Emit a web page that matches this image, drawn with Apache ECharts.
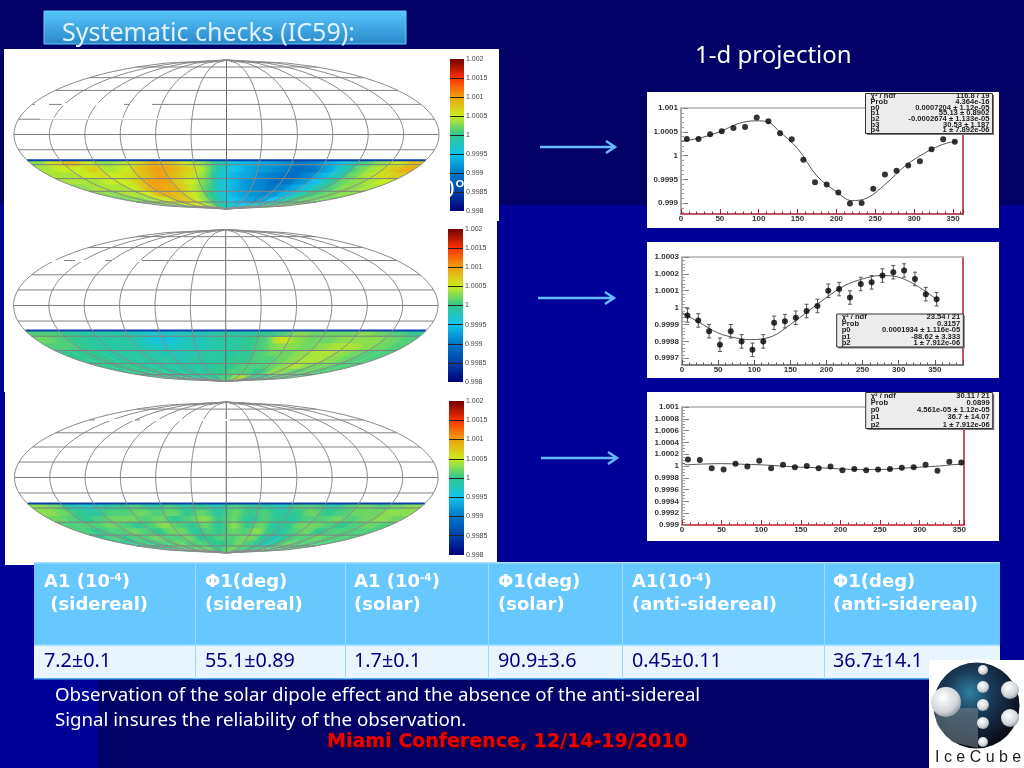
<!DOCTYPE html>
<html><head><meta charset="utf-8">
<style>html,body{margin:0;padding:0;background:#000066}#c{width:1024px;height:768px}</style>
<script src="https://cdn.jsdelivr.net/npm/echarts@6/dist/echarts.min.js"></script>
</head><body><div id="c"></div>
<script>
// ---------- data ----------
const binCentres = [7.5,22.5,37.5,52.5,67.5,82.5,97.5,112.5,127.5,142.5,157.5,172.5,187.5,202.5,217.5,232.5,247.5,262.5,277.5,292.5,307.5,322.5,337.5,352.5];
const siderealY = [1.00035,1.00035,1.00045,1.00051,1.00058,1.0006,1.0008,1.00072,1.00047,1.00034,0.99991,0.99944,0.99939,0.99922,0.99899,0.999,0.9993,0.9996,0.99968,0.99979,0.99988,1.00013,1.00034,1.00029];
const siderealFit = [[0,1.0003],[25,1.00037],[50,1.0005],[75,1.00068],[97,1.00073],[112,1.00071],[125,1.00053],[150,1.00015],[175,0.99957],[200,0.99924],[220,0.99905],[240,0.99911],[262,0.99938],[290,0.9998],[320,1.00011],[340,1.00025],[355,1.0003]];
const solarY = [0.999954,0.999924,0.99986,0.99978,0.99986,0.9998,0.99975,0.9998,0.99991,0.99992,0.99994,0.99998,1.00001,1.0001,1.00011,1.00006,1.00014,1.00015,1.00019,1.00021,1.00022,1.00017,1.00008,1.00005];
const solarErr = [0.00004,0.00004,0.00004,0.00004,0.00004,0.00004,0.00004,0.00004,0.00004,0.00004,0.00004,0.00004,0.00004,0.00004,0.00004,0.00004,0.00004,0.00004,0.00004,0.00004,0.00004,0.00004,0.00004,0.00004];
const solarFit = [[0,0.99997],[25,0.99991],[50,0.99985],[75,0.99982],[95,0.99981],[125,0.99983],[150,0.9999],[175,0.99998],[200,1.00006],[225,1.00013],[250,1.00017],[275,1.00019],[300,1.00018],[325,1.00013],[352,1.00005]];
const antiY = [1.00011,1.0001,0.99996,0.99994,1.00004,0.99999,1.00009,0.99996,1.00002,0.99998,1.0,0.99996,0.99999,0.99993,0.99995,0.99993,0.99994,0.99995,0.99997,0.99998,1.00002,0.99992,1.00007,1.00006];
const antiFit = [[0,1.00005],[7,1.00002],[20,1.00003],[50,1.00004],[75,1.00003],[100,1.00002],[125,1.0],[150,0.99998],[175,0.99997],[200,0.99995],[225,0.99994],[250,0.99994],[275,0.99996],[300,0.99998],[325,1.0],[340,1.00002],[355,1.00003]];
const statsSidereal = [['χ² / ndf','116.8 / 19'],['Prob','4.364e-16'],['p0','0.0007204 ± 1.12e-05'],['p1','55.13 ± 0.8902'],['p2','-0.0002674 ± 1.133e-05'],['p3','30.53 ± 1.187'],['p4','1 ± 7.892e-06']];
const statsSolar = [['χ² / ndf','23.54 / 21'],['Prob','0.3157'],['p0','0.0001934 ± 1.116e-05'],['p1','-88.62 ± 3.333'],['p2','1 ± 7.912e-06']];
const statsAnti = [['χ² / ndf','30.11 / 21'],['Prob','0.0899'],['p0','4.561e-05 ± 1.12e-05'],['p1','36.7 ± 14.07'],['p2','1 ± 7.912e-06']];
const siderealTicks = [0.999,0.9995,1,1.0005,1.001];
const solarTicks = [0.9997,0.9998,0.9999,1,1.0001,1.0002,1.0003];
const antiTicks = [0.999,0.9992,0.9994,0.9996,0.9998,1,1.0002,1.0004,1.0006,1.0008,1.001];

// sky maps: rows run from the northern edge of the band to the pole, 24 columns in RA, in units of 1e-4 around 1
const mapSidereal = [
[3,6,8,5,3,4,6,9,8,5,3,-1,-5,-6,-7,-8,-10,-9,-6,-3,1,3,5,8],
[4,5,5,7,4,5,8,10,9,7,4,-2,-5,-7,-8,-9,-11,-10,-7,-2,2,4,7,9],
[4,4,5,6,5,6,8,10,8,6,3,-3,-6,-7,-9,-10,-11,-9,-6,-2,2,4,6,7],
[4,4,4,5,5,7,10,10,7,5,2,-3,-6,-8,-9,-11,-10,-8,-5,-1,2,3,4,5],
[3,4,4,4,5,8,10,9,7,4,1,-3,-6,-8,-9,-10,-9,-7,-4,-1,1,3,3,4],
[3,3,4,4,5,8,9,8,6,4,0,-3,-6,-7,-8,-9,-8,-6,-3,0,1,2,3,3],
[2,3,3,4,5,6,8,7,5,3,0,-3,-5,-6,-7,-8,-7,-5,-3,0,1,2,2,2],
[2,2,3,3,4,5,6,5,4,2,0,-2,-3,-4,-5,-5,-4,-3,-2,0,1,1,2,2]];
const mapSolar = [
[1,1,0,-1,-1,-1,-2,-3,-3,-2,-2,-1,-1,-1,0,1,3,2,2,2,3,2,1,0],
[2,1,0,-1,-1,-1,-2,-4,-4,-2,-2,-1,-1,0,1,6,3,2,2,3,3,3,2,1],
[1,1,0,-1,-1,-1,-2,-3,-3,-2,-2,-1,-1,0,1,3,3,2,3,4,4,3,2,1],
[0,0,0,-1,-1,-1,-1,-2,-2,-2,-1,-1,-1,0,1,2,2,3,4,4,3,2,1,1],
[0,0,0,-1,-1,-1,-1,-1,-2,-1,-1,-1,0,0,1,1,2,3,4,4,3,2,1,1],
[0,0,0,0,-1,-1,-1,-1,-1,-1,-1,0,0,1,1,1,2,3,4,3,2,2,1,1],
[0,0,0,0,0,-1,-1,-1,-1,-1,0,0,1,1,1,0,1,3,3,2,1,2,1,1],
[0,0,0,0,0,0,-1,-1,0,0,0,1,1,3,4,3,1,-1,0,1,1,1,1,1]];
const mapAnti = [
[3,2,-2,-3,-1,0,1,-1,1,-1,0,-2,1,0,-1,-2,1,1,-1,1,2,1,2,3],
[3,2,0,-1,1,1,2,1,2,0,2,-1,2,0,1,-1,0,2,0,1,2,2,3,3],
[2,1,0,1,2,2,1,2,0,1,3,0,2,-1,1,0,-1,1,1,2,1,2,3,2],
[1,1,1,2,1,0,1,3,1,0,2,-1,3,0,2,-1,0,2,2,1,0,1,2,1],
[1,0,1,1,2,1,0,2,2,-1,1,0,2,1,3,0,-1,1,2,0,1,1,1,1],
[0,1,0,1,1,2,1,1,2,0,0,1,1,2,2,-1,-2,0,1,1,2,1,1,1],
[0,0,1,0,1,1,2,1,1,1,0,0,1,2,1,0,-2,-1,1,2,1,1,1,1],
[0,0,0,1,1,1,1,2,2,1,0,1,2,2,1,1,0,1,1,1,1,1,1,1]];
const colorTicks = [0.998,0.9985,0.999,0.9995,1,1.0005,1.001,1.0015,1.002];
const colorStops = ['#00007a','#0040a8','#0078c8','#10c4ee','#30c890','#c8ec20','#f0a010','#ff3000','#700000'];

// table
const tableHead = [['A1 (10','-4',')',' (sidereal)'],['Φ1(deg)','','','(sidereal)'],['A1 (10','-4',')','(solar)'],['Φ1(deg)','','','(solar)'],['A1(10','-4',')','(anti-sidereal)'],['Φ1(deg)','','','(anti-sidereal)']];
const tableValues = ['7.2±0.1','55.1±0.89','1.7±0.1','90.9±3.6','0.45±0.11','36.7±14.1'];
const noteLines = ['Observation of the solar dipole effect and the absence of the anti-sidereal','Signal insures the reliability of the observation.'];

// ---------- layout ----------
const UI = '"Noto Sans", "Open Sans", sans-serif';
const HEAD = '"DejaVu Sans", sans-serif';
const columnX = [34,195,345,488,622,824,1000];
const skyMaps = [
 {vals:mapSidereal, box:[14,60,439,209], bar:[450,59,464,211], edge:-0.345},
 {vals:mapSolar,    box:[13.5,229.5,438,381.5], bar:[448,229,463,382], edge:-0.33},
 {vals:mapAnti,     box:[14.5,402,438,553], bar:[449,401,464,555], edge:-0.345}];
const plots = [
 {grid:[681,108,963,214], xMax:363, yMin:0.99877,yMax:1.001, ticks:siderealTicks, minorStep:0.0001, pts:siderealY, fit:siderealFit, bottom:'#a02030'},
 {grid:[682,257,963,365], xMax:389, yMin:0.99966,yMax:1.0003, ticks:solarTicks, minorStep:0.00002, pts:solarY, fit:solarFit, err:solarErr, bottom:'#555555'},
 {grid:[682,407,964,525], xMax:356, yMin:0.999,yMax:1.001, ticks:antiTicks, minorStep:0.00005, pts:antiY, fit:antiFit, bottom:'#c02030'}];

// Mollweide helpers for the sky-map geometry
function latToY(latDeg){const t=Math.PI*Math.sin(latDeg*Math.PI/180);let th=latDeg*Math.PI/180;for(let i=0;i<30;i++){const d=(2*th+Math.sin(2*th)-t)/(2+2*Math.cos(2*th)+1e-9);th-=d;}return Math.sin(th);}
function merX(lon,y){return lon/180*Math.sqrt(Math.max(0,1-y*y));}
function shade(v){const p=(v-0.998)/0.004;return echarts.color.lerp(Math.min(1,Math.max(0,p)),colorStops);}

const grid=[],xAxis=[],yAxis=[],series=[],graphic=[];
function rect(x,y,w,h,fill,z,extra){graphic.push(Object.assign({type:'rect',shape:{x,y,width:w,height:h},style:{fill},z:z===undefined?-5:z,silent:true},extra||{}));}
function text(x,y,t,o){graphic.push(Object.assign({type:'text',x,y,z:o.z===undefined?60:o.z,silent:true,style:Object.assign({text:t,fill:'#fff',font:'18px '+UI,textVerticalAlign:'middle'},o.style||{})},o.scaleX?{scaleX:o.scaleX}:{}));}

// backgrounds
rect(0,0,1024,768,'#000066',-20);
rect(0,205,1024,475,'#000099',-19);
rect(0,680,98,88,'#000099',-19);
const titleGrad=new echarts.graphic.LinearGradient(0,0,0,1,[{offset:0,color:'#58c6ff'},{offset:1,color:'#2a88c8'}]);
rect(44,11,362,33,titleGrad,-18,{style:{fill:titleGrad,stroke:'#66ccff',lineWidth:1}});
text(62,34,'Systematic checks (IC59):',{z:-17,style:{font:'25px '+UI,fill:'#dff2ff'}});
text(695,56,'1-d projection',{style:{font:'24px '+UI}});
// white panels
rect(4,49,495,172,'#fff',-6);rect(4,221,493,171,'#fff',-6);rect(5,392,492,173,'#fff',-6);
rect(647,92,352,136,'#fff',-6);rect(647,242,352,136,'#fff',-6);rect(647,392,352,149,'#fff',-6);
// arrows
[[540,615,147],[538,614,298],[541,617,458]].forEach(a=>{
  graphic.push({type:'polyline',silent:true,z:-4,shape:{points:[[a[0],a[2]],[a[1],a[2]]]},style:{stroke:'#66bbff',lineWidth:2.5,fill:'none'}});
  graphic.push({type:'polyline',silent:true,z:-4,shape:{points:[[a[1]-9,a[2]-6],[a[1],a[2]],[a[1]-9,a[2]+6]]},style:{stroke:'#66bbff',lineWidth:2.5,fill:'none'}});
});

// ---------- sky maps ----------
skyMaps.forEach((m,mi)=>{
  const [x0,y0,x1,y1]=m.box, gi=grid.length;
  grid.push({left:x0,top:y0,width:x1-x0,height:y1-y0,show:false});
  xAxis.push({type:'value',gridIndex:gi,min:-1,max:1,show:false});
  yAxis.push({type:'value',gridIndex:gi,min:-1,max:1,show:false});
  const nR=m.vals.length, cells=[];
  m.vals.forEach((r,i)=>r.forEach((v,j)=>cells.push([j,i,v])));
  series.push({type:'custom',coordinateSystem:'cartesian2d',xAxisIndex:gi,yAxisIndex:gi,z:2,silent:true,clip:false,animation:false,
    data:cells,encode:{x:0,y:1},
    renderItem(p,api){
      const j=api.value(0),i=api.value(1),v=api.value(2);
      const yTop=m.edge+(-1-m.edge)*i/nR,yBot=Math.max(-1,m.edge+(-1-m.edge)*(i+1)/nR-0.012);
      const l=-180+j*15,r=Math.min(180,l+15.5),pts=[],n=5;
      for(let k=0;k<=n;k++){const y=yTop+(yBot-yTop)*k/n;pts.push(api.coord([merX(l,y),y]));}
      for(let k=n;k>=0;k--){const y=yTop+(yBot-yTop)*k/n;pts.push(api.coord([merX(r,y),y]));}
      const row=m.vals[i],c=w=>shade(1+w*1e-4);
      const prev=row[Math.max(0,j-1)],next=row[Math.min(23,j+1)];
      const xs=pts.map(q=>q[0]),lo=Math.min(...xs),hi=Math.max(...xs);
      const fill={type:'linear',x:lo,y:0,x2:hi,y2:0,global:true,colorStops:[{offset:0,color:c((prev+v)/2)},{offset:.5,color:c(v)},{offset:1,color:c((next+v)/2)}]};
      return {type:'polygon',z2:i,shape:{points:pts},style:{fill}};
    }});
  const halfW=Math.sqrt(1-m.edge*m.edge);
  series.push({type:'line',xAxisIndex:gi,yAxisIndex:gi,z:3,silent:true,animation:false,symbol:'none',clip:false,
    data:[[-halfW,m.edge],[halfW,m.edge]],lineStyle:{color:'#0a3ea8',width:2}});
  const gLine=(pts,col)=>series.push({type:'line',xAxisIndex:gi,yAxisIndex:gi,z:4,silent:true,animation:false,symbol:'none',clip:false,data:pts,lineStyle:{color:col||'#8a8a8a',width:1}});
  for(let lon=-180;lon<=180;lon+=30){
    const pts=[];for(let k=0;k<=48;k++){const y=-1+k/24;pts.push([merX(lon,y),y]);}
    gLine(pts,lon===0?'#666':'#8a8a8a');
  }
  for(let lat=-75;lat<=75;lat+=15){
    const y=latToY(lat),w=Math.sqrt(1-y*y);
    gLine([[-w,y],[w,y]],'#808080');
  }
  // colour bar
  const [bx0,by0,bx1,by1]=m.bar, bi=grid.length;
  grid.push({left:bx0,top:by0,width:bx1-bx0,height:by1-by0,show:false});
  xAxis.push({type:'value',gridIndex:bi,min:0,max:1,show:false});
  yAxis.push({type:'value',gridIndex:bi,position:'right',min:0.998,max:1.002,interval:0.0005,
    axisLine:{show:false},axisTick:{show:false},z:6,
    splitLine:{show:true,showMinLine:false,showMaxLine:false,lineStyle:{color:'#222',width:1}},
    axisLabel:{show:true,color:'#444',fontSize:7,margin:2,fontFamily:'Liberation Sans',formatter:v=>String(+v.toFixed(4))}});
  series.push({type:'custom',xAxisIndex:bi,yAxisIndex:bi,z:-1,silent:true,animation:false,clip:false,
    data:[[0,colorTicks[0],1,colorTicks[colorTicks.length-1]]],encode:{x:[0,2],y:[1,3]},
    renderItem(p,api){
      const a=api.coord([0,api.value(1)]),b=api.coord([1,api.value(3)]);
      const stops=colorStops.map((c,k)=>({offset:1-k/(colorStops.length-1),color:c}));
      return {type:'rect',shape:{x:a[0],y:b[1],width:b[0]-a[0],height:a[1]-b[1]},
        style:{fill:new echarts.graphic.LinearGradient(0,0,0,1,stops)}};
    }});
});
// remnants of white text lying over the slide
[[35,103,14,2.4],[62,103,62,2.4],[130,103,22,2.4],[40,118,150,1.6],[50,260,14,2],[75,260,30,2],[112,260,30,2],[95,419,40,2],[140,419,90,2]].forEach(r=>rect(r[0],r[1],r[2],r[3],'#fff',20));
text(441,190,'0°',{z:20,style:{font:'24px '+UI}});
rect(420,175,29,30,'#fff',19);

// ---------- projection plots ----------
plots.forEach((P,pi)=>{
  const [l,t,r,b]=P.grid, gi=grid.length;
  grid.push({left:l,top:t,width:r-l,height:b-t,show:false});
  xAxis.push({type:'value',gridIndex:gi,position:'bottom',min:0,max:P.xMax,interval:50,
    axisLine:{show:true,onZero:false,lineStyle:{color:P.bottom,width:1.5}},
    axisTick:{show:true,inside:true,length:5,lineStyle:{color:P.bottom}},
    minorTick:{show:true,splitNumber:5,length:2.5,lineStyle:{color:P.bottom}},
    splitLine:{show:false},
    axisLabel:{color:'#333',fontSize:8,fontWeight:'bold',margin:1,fontFamily:'Liberation Sans',showMaxLabel:false}});
  xAxis.push({type:'value',gridIndex:gi,position:'top',min:0,max:P.xMax,
    axisLine:{show:true,onZero:false,lineStyle:{color:'#b0b0b0',width:1.5}},axisTick:{show:false},axisLabel:{show:false},splitLine:{show:false}});
  const yi=yAxis.length, xi=xAxis.length-2;
  yAxis.push({type:'value',gridIndex:gi,position:'left',min:P.yMin,max:P.yMax,
    axisLine:{show:true,onZero:false,lineStyle:{color:'#909090',width:1.5}},
    axisTick:{show:true,inside:true,length:7,customValues:P.ticks,lineStyle:{color:'#808080'}},
    splitLine:{show:false},
    axisLabel:{color:'#333',fontSize:8,fontWeight:'bold',margin:3,fontFamily:'Liberation Sans',customValues:P.ticks,formatter:v=>String(+(+v).toFixed(4))}});
  yAxis.push({type:'value',gridIndex:gi,position:'right',min:P.yMin,max:P.yMax,
    axisLine:{show:true,onZero:false,lineStyle:{color:'#a82030',width:1.5}},axisTick:{show:false},axisLabel:{show:false},splitLine:{show:false}});
  const minors=[];for(let v=P.ticks[0];v<=P.yMax+1e-9;v+=P.minorStep)minors.push(+v.toFixed(6));
  for(let v=P.ticks[0]-P.minorStep;v>=P.yMin;v-=P.minorStep)minors.push(+v.toFixed(6));
  yAxis.push({type:'value',gridIndex:gi,position:'left',min:P.yMin,max:P.yMax,
    axisLine:{show:false},splitLine:{show:false},axisLabel:{show:false},
    axisTick:{show:true,inside:true,length:3,customValues:minors,lineStyle:{color:'#a0a0a0'}}});
  if(P.err){
    series.push({type:'custom',xAxisIndex:xi,yAxisIndex:yi,z:5,silent:true,animation:false,
      data:binCentres.map((x,i)=>[x,P.pts[i]-P.err[i],P.pts[i]+P.err[i]]),encode:{x:0,y:[1,2]},
      renderItem(p,api){
        const a=api.coord([api.value(0),api.value(1)]),c=api.coord([api.value(0),api.value(2)]);
        const s={stroke:'#555',lineWidth:1,fill:'none'};
        return {type:'group',children:[
          {type:'line',shape:{x1:a[0],y1:a[1],x2:c[0],y2:c[1]},style:s},
          {type:'line',shape:{x1:a[0]-2,y1:a[1],x2:a[0]+2,y2:a[1]},style:s},
          {type:'line',shape:{x1:c[0]-2,y1:c[1],x2:c[0]+2,y2:c[1]},style:s}]};
      }});
  }
  series.push({type:'line',xAxisIndex:xi,yAxisIndex:yi,z:5,silent:true,animation:false,symbol:'none',smooth:0.35,data:P.fit,lineStyle:{color:'#555',width:1}});
  series.push({type:'scatter',xAxisIndex:xi,yAxisIndex:yi,z:6,silent:true,animation:false,symbolSize:6,itemStyle:{color:'#000'},data:binCentres.map((x,i)=>[x,P.pts[i]])});
});

// stat boxes
function statBox(x,y,w,h,rows,nameX){
  rect(x+1.5,y+1.5,w,h,'#777',30);
  graphic.push({type:'rect',silent:true,z:31,shape:{x,y,width:w,height:h},style:{fill:'#ececec',stroke:'#333',lineWidth:1}});
  const step=h/rows.length;
  rows.forEach((r,i)=>{
    const yy=y+step*(i+.5);
    text(x+nameX,yy,r[0],{z:32,scaleX:1.17,style:{font:'bold 6.5px "Liberation Sans"',fill:'#222'}});
    text(x+w-3,yy,r[1],{z:32,scaleX:1.17,style:{font:'bold 6.5px "Liberation Sans"',fill:'#222',textAlign:'right'}});
  });
}
statBox(865.5,93.5,127,40,statsSidereal,5);
statBox(836.7,314,126.6,33,statsSolar,5);
statBox(865.7,392.5,127,36,statsAnti,5);

// ---------- table ----------
rect(34,562,966,83,'#66c8ff',-3);
rect(34,645,966,34,'#e8f4fe',-3);
rect(34,562,966,1.5,'#a8e0ff',-2);rect(34,644.5,966,1.5,'#a8e0ff',-2);rect(34,678,966,1.5,'#55b4f0',-2);
columnX.slice(1,-1).forEach(x=>rect(x,562,1,117,'#9ed8fa',-2));
const padX=[10,10,9,10,10,9];
tableHead.forEach((h,i)=>{
  const x=columnX[i]+padX[i];
  graphic.push({type:'text',silent:true,z:60,x,y:582,style:{
    text:'{a|'+h[0]+'}'+(h[1]?'{s|'+h[1]+'}{a|'+h[2]+'}':''),textVerticalAlign:'middle',
    rich:{a:{font:'bold 18px '+HEAD,fill:'#fff'},s:{font:'bold 10.5px '+HEAD,fill:'#fff',verticalAlign:'top',padding:[0,0,8,0]}}}});
  text(x,605,h[3],{style:{font:'bold 18px '+HEAD}});
  text(x,661,tableValues[i],{style:{font:'19.8px '+UI,fill:'#000080'}});
});
noteLines.forEach((n,i)=>text(55,696+i*24.5,n,{style:{font:'18.7px '+UI}}));
text(327,742,'Miami Conference, 12/14-19/2010',{style:{font:'bold 19px '+HEAD,fill:'#ee0000',textShadowColor:'#500000',textShadowBlur:1,textShadowOffsetX:1,textShadowOffsetY:1}});

// ---------- logo ----------
rect(929,660,95,108,'#fff',70);
const disc=new echarts.graphic.RadialGradient(0.42,0.35,0.65,[{offset:0,color:'#2f7f9f'},{offset:0.4,color:'#1a3a58'},{offset:1,color:'#0b0b14'}]);
graphic.push({type:'circle',silent:true,z:71,shape:{cx:976.5,cy:705.5,r:43},style:{fill:disc}});
graphic.push({type:'polygon',silent:true,z:72,shape:{points:[[934,708],[978,708],[978,748],[952,742],[937,725]]},style:{fill:'#6d7f86',opacity:.6}});
[[946,702,15],[983,670,5],[983,687,6],[983,705,6],[983,723,6],[983,742,5],[1010,690,9],[1010,718,9]].forEach(s=>{
  const g=new echarts.graphic.RadialGradient(0.4,0.35,0.7,[{offset:0,color:'#fff'},{offset:.7,color:'#d0d4d8'},{offset:1,color:'#8a9098'}]);
  graphic.push({type:'circle',silent:true,z:73,shape:{cx:s[0],cy:s[1],r:s[2]},style:{fill:g}});
});
text(935,758,'I c e C u b e',{z:74,style:{font:'16px "Liberation Sans"',fill:'#222'}});

const chart=echarts.init(document.getElementById('c'),null,{renderer:'canvas',width:1024,height:768});
chart.setOption({animation:false,backgroundColor:'#000066',grid,xAxis,yAxis,series,graphic:{elements:graphic}});
</script></body></html>
